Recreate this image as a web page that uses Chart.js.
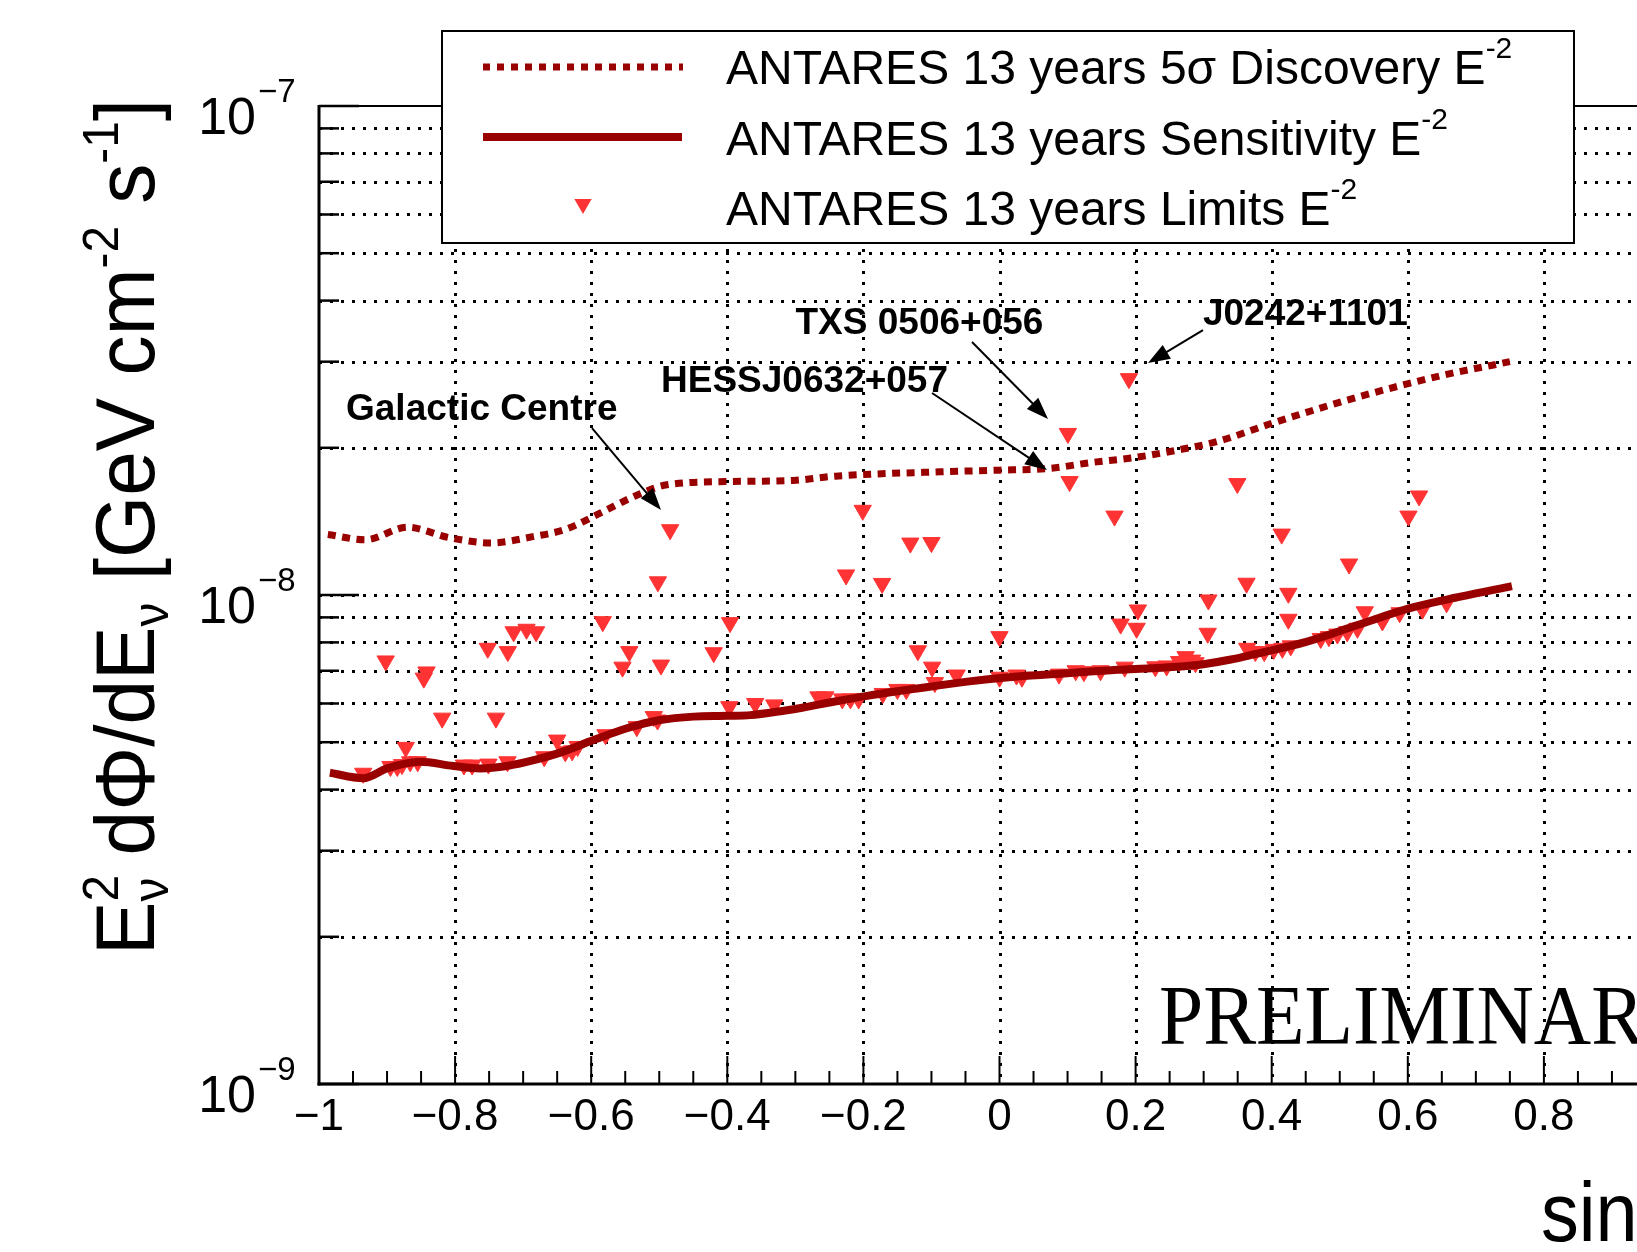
<!DOCTYPE html>
<html>
<head>
<meta charset="utf-8">
<script src="https://cdn.jsdelivr.net/npm/chart.js@4.4.1/dist/chart.umd.min.js"></script>
<style>
html, body { margin: 0; padding: 0; overflow: hidden; background: #fff; }
#wrap { width: 1760px; height: 1252px; }
</style>
</head>
<body>
<div id="wrap"><canvas id="limitsChart" width="1760" height="1252"></canvas></div>
<script>
// 5 sigma discovery potential (dotted)
const discX = [-0.987, -0.932, -0.870, -0.809, -0.7475, -0.686, -0.638, -0.587, -0.533, -0.4887,
  -0.4004, -0.303, -0.241, -0.0874, 0.0, 0.075, 0.1338, 0.2015, 0.2585, 0.32, 0.4025, 0.5268, 0.6495, 0.75];
const discY = [1.33e-8, 1.297e-8, 1.376e-8, 1.31e-8, 1.278e-8, 1.316e-8, 1.362e-8, 1.47e-8, 1.6e-8, 1.68e-8,
  1.706e-8, 1.715e-8, 1.75e-8, 1.786e-8, 1.80e-8, 1.816e-8, 1.865e-8, 1.913e-8, 1.975e-8, 2.06e-8, 2.25e-8, 2.54e-8, 2.81e-8, 3.0e-8];

// sensitivity (solid)
const sensX = [-0.984, -0.935, -0.90, -0.8515, -0.8025, -0.763, -0.724, -0.680, -0.6456, -0.5966, -0.5475,
  -0.4985, -0.4496, -0.4004, -0.366, -0.317, -0.29, -0.2437, -0.1946, -0.121, -0.0475, 0.026, 0.0996,
  0.173, 0.222, 0.26, 0.2995, 0.34, 0.375, 0.4507, 0.5262, 0.6018, 0.6773, 0.753];
const sensY = [4.33e-9, 4.22e-9, 4.42e-9, 4.56e-9, 4.47e-9, 4.42e-9, 4.47e-9, 4.61e-9, 4.76e-9, 5.05e-9, 5.34e-9,
  5.55e-9, 5.64e-9, 5.66e-9, 5.68e-9, 5.80e-9, 5.88e-9, 6.05e-9, 6.22e-9, 6.44e-9, 6.65e-9, 6.81e-9, 6.92e-9,
  7.03e-9, 7.08e-9, 7.13e-9, 7.22e-9, 7.38e-9, 7.57e-9, 8.02e-9, 8.68e-9, 9.39e-9, 9.92e-9, 1.043e-8];

// upper limits of the source list
const limX = [-0.935, -0.902, -0.895, -0.885, -0.878, -0.8725, -0.866, -0.855, -0.842, -0.846,
  -0.819, -0.787, -0.775, -0.752, -0.751, -0.740, -0.7225, -0.723, -0.714, -0.695,
  -0.681, -0.669, -0.650, -0.638, -0.628, -0.62, -0.579, -0.533, -0.508, -0.5025,
  -0.484, -0.502, -0.583, -0.396, -0.544, -0.554, -0.4975, -0.420, -0.397, -0.359,
  -0.331, -0.266, -0.256, -0.231, -0.219, -0.207, -0.1715, -0.150, -0.137, -0.201,
  -0.2255, -0.1725, -0.131, -0.100, -0.120, -0.099, -0.095, -0.063, 0.0, 0.0,
  0.025, 0.033, 0.0875, 0.112, 0.124, 0.1485, 0.178, 0.184, 0.2015, 0.2034,
  0.229, 0.2456, 0.1005, 0.103, 0.169, 0.1902, 0.3495, 0.363, 0.307, 0.306,
  0.264, 0.2735, 0.283, 0.288, 0.364, 0.376, 0.389, 0.403, 0.4157, 0.428,
  0.4147, 0.4245, 0.4245, 0.5137, 0.6166, 0.601, 0.5368, 0.5627, 0.588, 0.6216,
  0.657, 0.472, 0.484, 0.4966, 0.511, 0.526];
const limY = [4.32e-9, 7.33e-9, 4.46e-9, 4.46e-9, 4.50e-9, 4.88e-9, 4.56e-9, 4.56e-9, 6.96e-9, 6.76e-9,
  5.6e-9, 4.49e-9, 4.49e-9, 7.78e-9, 4.51e-9, 5.6e-9, 7.66e-9, 4.56e-9, 8.41e-9, 8.51e-9,
  8.41e-9, 4.67e-9, 5.05e-9, 4.78e-9, 4.80e-9, 4.90e-9, 5.18e-9, 5.38e-9, 5.64e-9, 5.55e-9,
  1.36e-8, 1.064e-8, 8.82e-9, 8.78e-9, 7.66e-9, 7.12e-9, 7.19e-9, 7.62e-9, 5.91e-9, 6.0e-9,
  5.96e-9, 6.19e-9, 6.19e-9, 6.13e-9, 6.13e-9, 6.13e-9, 6.29e-9, 6.41e-9, 6.41e-9, 1.49e-8,
  1.099e-8, 1.056e-8, 1.277e-8, 1.28e-8, 7.69e-9, 7.12e-9, 6.62e-9, 6.86e-9, 8.22e-9, 6.79e-9,
  6.86e-9, 6.79e-9, 6.89e-9, 7.0e-9, 6.97e-9, 7.0e-9, 8.72e-9, 7.12e-9, 8.55e-9, 9.32e-9,
  7.13e-9, 7.16e-9, 2.14e-8, 1.706e-8, 1.45e-8, 2.77e-8, 1.69e-8, 1.057e-8, 9.77e-9, 8.35e-9,
  7.31e-9, 7.48e-9, 7.36e-9, 7.27e-9, 7.78e-9, 7.66e-9, 7.66e-9, 7.74e-9, 7.78e-9, 7.87e-9,
  1.332e-8, 1.008e-8, 8.92e-9, 1.157e-8, 1.594e-8, 1.45e-8, 9.24e-9, 8.85e-9, 9.2e-9, 9.35e-9,
  9.64e-9, 8.15e-9, 8.22e-9, 8.32e-9, 8.41e-9, 8.55e-9];

// axes
const xTickValues = [-1, -0.8, -0.6, -0.4, -0.2, 0, 0.2, 0.4, 0.6, 0.8, 1];
const xTickLabels = ['\u22121', '\u22120.8', '\u22120.6', '\u22120.4', '\u22120.2', '0', '0.2', '0.4', '0.6', '0.8', '1'];
const yDecades = [1e-9, 1e-8, 1e-7];
const yExpLabels = ['\u22129', '\u22128', '\u22127'];
const yGridValues = [2e-9, 3e-9, 4e-9, 5e-9, 6e-9, 7e-9, 8e-9, 9e-9, 1e-8,
  2e-8, 3e-8, 4e-8, 5e-8, 6e-8, 7e-8, 8e-8, 9e-8];

// source labels: text anchor, arrow start, arrow tip (data coordinates)
const srcNames = ['Galactic Centre', 'HESSJ0632+057', 'TXS 0506+056', 'J0242+1101'];
const srcText = [[-0.9603, 2.279e-8], [-0.4974, 2.601e-8], [-0.2998, 3.425e-8], [0.299, 3.564e-8]];
const srcFrom = [[-0.5988, 2.195e-8], [-0.0992, 2.589e-8], [-0.0404, 3.291e-8], [0.299, 3.482e-8]];
const srcTip = [[-0.4974, 1.492e-8], [0.0698, 1.802e-8], [0.0713, 2.29e-8], [0.2182, 2.98e-8]];

const darkRed = '#990000';
const markRed = '#ff3333';
const SANS = '"Liberation Sans", Arial, sans-serif';

function pts(xs, ys) { return xs.map((x, i) => ({ x: x, y: ys[i] })); }

function line(ctx, x1, y1, x2, y2) {
  ctx.beginPath(); ctx.moveTo(x1, y1); ctx.lineTo(x2, y2); ctx.stroke();
}

// draws a list of text runs; returns the total advance
function drawRuns(ctx, runs, x, y, dryRun) {
  let cx = x;
  runs.forEach(r => {
    ctx.font = (r.bold ? 'bold ' : '') + r.size + 'px ' + (r.family || SANS);
    if (!dryRun) ctx.fillText(r.t, cx, y + (r.dy || 0));
    if (!r.stack) cx += ctx.measureText(r.t).width;
  });
  return cx - x;
}

function downTriangle(ctx, x, y, r) {
  ctx.beginPath();
  ctx.moveTo(x - r * 0.866, y - r / 2);
  ctx.lineTo(x + r * 0.866, y - r / 2);
  ctx.lineTo(x, y + r);
  ctx.closePath();
  ctx.fill();
}

const rootFrame = {
  id: 'rootFrame',
  beforeDatasetsDraw(chart) {
    const { ctx, chartArea: a, scales: { x, y } } = chart;
    ctx.save();
    ctx.strokeStyle = '#000';
    ctx.lineWidth = 3;
    ctx.setLineDash([3, 8]);
    xTickValues.forEach(v => {
      if (v === -1) return;
      const px = Math.round(x.getPixelForValue(v)) + 0.5;
      line(ctx, px, a.top, px, a.bottom);
    });
    yGridValues.forEach(v => {
      const py = Math.round(y.getPixelForValue(v)) + 0.5;
      line(ctx, a.left, py, a.right, py);
    });
    ctx.restore();
  },
  afterDatasetsDraw(chart) {
    const { ctx, chartArea: a, scales: { x, y } } = chart;
    ctx.save();
    ctx.strokeStyle = '#000';
    ctx.setLineDash([]);
    // frame
    ctx.lineWidth = 2;
    line(ctx, a.left, a.top, a.right, a.top);
    ctx.lineWidth = 3;
    line(ctx, a.left, a.top - 1, a.left, a.bottom + 1.5);
    line(ctx, a.left - 1.5, a.bottom, a.right, a.bottom);
    // y ticks
    ctx.lineWidth = 2.5;
    yDecades.forEach(v => { const py = y.getPixelForValue(v); line(ctx, a.left, py, a.left + 40, py); });
    yGridValues.forEach(v => {
      if (yDecades.includes(v)) return;
      const py = y.getPixelForValue(v); line(ctx, a.left, py, a.left + 20, py);
    });
    // x ticks
    ctx.lineWidth = 2;
    for (let v = -1; v <= 1.0001; v += 0.05) {
      const px = x.getPixelForValue(v);
      const major = Math.abs(v * 5 - Math.round(v * 5)) < 1e-6;
      line(ctx, px, a.bottom, px, a.bottom - (major ? 28 : 13));
    }
    ctx.restore();
  },
  afterDraw(chart) {
    const { ctx, chartArea: a, scales: { x, y } } = chart;
    ctx.save();
    ctx.fillStyle = '#000';
    ctx.textBaseline = 'alphabetic';

    // x tick labels
    ctx.font = '44px ' + SANS;
    ctx.textAlign = 'center';
    xTickValues.forEach((v, i) => ctx.fillText(xTickLabels[i], x.getPixelForValue(v), a.bottom + 46));

    // y tick labels 10^n
    yDecades.forEach((v, i) => {
      const py = y.getPixelForValue(v);
      ctx.textAlign = 'right';
      ctx.font = '52px ' + SANS;
      ctx.fillText('10', a.left - 63, py + 28);
      ctx.textAlign = 'left';
      ctx.font = '33px ' + SANS;
      ctx.fillText(yExpLabels[i], a.left - 61, py - 4);
    });

    // y title (rotated)
    const yRuns = [
      { t: 'E', size: 84 }, { t: '2', size: 50, dy: -36, stack: true }, { t: '\u03bd', size: 50, dy: 14 },
      { t: ' d\u03a6/dE', size: 84 }, { t: '\u03bd', size: 50, dy: 14 },
      { t: ' [GeV cm', size: 84 }, { t: '-2', size: 50, dy: -36 },
      { t: ' s', size: 84 }, { t: '-1', size: 50, dy: -36 }, { t: ']', size: 84 }
    ];
    ctx.textAlign = 'left';
    const natural = drawRuns(ctx, yRuns, 0, 0, true);
    ctx.save();
    ctx.translate(154, 955);
    ctx.rotate(-Math.PI / 2);
    ctx.scale(856 / natural, 1);
    drawRuns(ctx, yRuns, 0, 0, false);
    ctx.restore();

    // x title
    ctx.save();
    ctx.translate(1541, 1241);
    ctx.scale(0.9, 1);
    ctx.font = '84px ' + SANS;
    ctx.fillText('sin(\u03b4)', 0, 0);
    ctx.restore();

    // PRELIMINARY
    ctx.save();
    ctx.translate(1159, 1044);
    ctx.scale(0.945, 1);
    ctx.font = '84px "Liberation Serif", "Times New Roman", serif';
    ctx.fillText('PRELIMINARY', 0, 0);
    ctx.restore();

    // source annotations
    srcNames.forEach((name, i) => {
      ctx.font = 'bold 37px ' + SANS;
      ctx.textAlign = 'left';
      ctx.fillText(name, x.getPixelForValue(srcText[i][0]), y.getPixelForValue(srcText[i][1]));
      const x1 = x.getPixelForValue(srcFrom[i][0]), y1 = y.getPixelForValue(srcFrom[i][1]);
      const x2 = x.getPixelForValue(srcTip[i][0]), y2 = y.getPixelForValue(srcTip[i][1]);
      const ang = Math.atan2(y2 - y1, x2 - x1);
      const hl = 22, hw = 8;
      ctx.strokeStyle = '#000';
      ctx.lineWidth = 2;
      line(ctx, x1, y1, x2 - Math.cos(ang) * hl * 0.8, y2 - Math.sin(ang) * hl * 0.8);
      ctx.beginPath();
      ctx.moveTo(x2, y2);
      ctx.lineTo(x2 - Math.cos(ang) * hl - Math.sin(ang) * hw, y2 - Math.sin(ang) * hl + Math.cos(ang) * hw);
      ctx.lineTo(x2 - Math.cos(ang) * hl + Math.sin(ang) * hw, y2 - Math.sin(ang) * hl - Math.cos(ang) * hw);
      ctx.closePath();
      ctx.fill();
    });

    // legend box
    const lx = 442, ly = 31, lw = 1132, lh = 212;
    ctx.fillStyle = '#fff';
    ctx.fillRect(lx, ly, lw, lh);
    ctx.strokeStyle = '#000';
    ctx.lineWidth = 2;
    ctx.strokeRect(lx, ly, lw, lh);

    ctx.strokeStyle = darkRed;
    ctx.lineWidth = 7;
    ctx.lineCap = 'butt';
    ctx.setLineDash([7, 7]);
    line(ctx, 483, 67, 683, 67);
    ctx.setLineDash([]);
    ctx.lineWidth = 8;
    line(ctx, 483, 137, 682, 137);
    ctx.fillStyle = markRed;
    downTriangle(ctx, 583, 204, 10);

    ctx.fillStyle = '#000';
    ctx.textAlign = 'left';
    const legendRows = [
      ['ANTARES 13 years 5\u03c3 Discovery E', 84],
      ['ANTARES 13 years Sensitivity E', 155],
      ['ANTARES 13 years Limits E', 225]
    ];
    legendRows.forEach(r => {
      drawRuns(ctx, [{ t: r[0], size: 48 }, { t: '-2', size: 30, dy: -26 }], 726, r[1], false);
    });
    ctx.restore();
  }
};

const ctx = document.getElementById('limitsChart').getContext('2d');

const limitsChart = new Chart(ctx, {
  type: 'scatter',
  data: {
    datasets: [{
      label: 'ANTARES 13 years 5\u03c3 Discovery E-2',
      data: pts(discX, discY),
      showLine: true,
      borderColor: darkRed,
      borderWidth: 7,
      borderDash: [8, 6.5],
      borderCapStyle: 'butt',
      cubicInterpolationMode: 'monotone',
      pointRadius: 0
    }, {
      label: 'ANTARES 13 years Sensitivity E-2',
      data: pts(sensX, sensY),
      showLine: true,
      borderColor: darkRed,
      borderWidth: 8,
      cubicInterpolationMode: 'monotone',
      pointRadius: 0
    }, {
      label: 'ANTARES 13 years Limits E-2',
      data: pts(limX, limY),
      showLine: false,
      pointStyle: 'triangle',
      rotation: 180,
      pointRadius: 10,
      backgroundColor: markRed,
      borderColor: markRed,
      borderWidth: 1
    }]
  },
  options: {
    responsive: false,
    animation: false,
    devicePixelRatio: 1,
    events: [],
    layout: {
      padding: { left: 319, top: 106, right: 80, bottom: 168 }
    },
    plugins: {
      legend: { display: false },
      tooltip: { enabled: false }
    },
    scales: {
      x: { type: 'linear', min: -1, max: 1, display: false },
      y: { type: 'logarithmic', min: 1e-9, max: 1e-7, display: false }
    }
  },
  plugins: [rootFrame]
});
</script>
</body>
</html>
